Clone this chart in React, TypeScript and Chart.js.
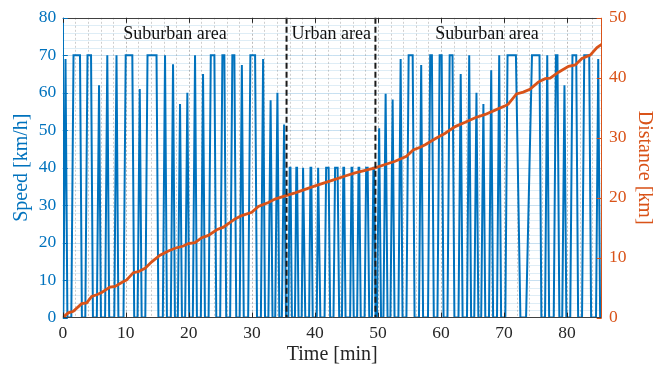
import React, { useEffect, useRef } from 'react';
import { Chart, registerables } from 'chart.js';

Chart.register(...registerables);

// ---- Data ----
const timeTicks = [0, 10, 20, 30, 40, 50, 60, 70, 80];
const speedTicks = [0, 10, 20, 30, 40, 50, 60, 70, 80];
const distanceTicks = [0, 10, 20, 30, 40, 50];

// speed cycles: time [min] when the car starts, reaches its peak, leaves its peak, stops; peak speed [km/h]
const cycleRise = [
  0.08, 1.35, 3.57, 5.40, 6.71, 8.17, 9.63, 11.86, 13.09, 15.87, 17.14, 18.25, 19.41, 20.63, 21.90, 23.13, 24.97, 26.55, 28.06, 29.41, 31.43, 32.62, 33.70, 34.76,
  35.78, 36.83, 37.90, 39.08, 40.29, 41.53, 42.95, 44.29, 45.59, 46.70, 47.88, 49.05,
  49.84, 50.87, 51.98, 53.25, 54.52, 56.51, 57.94, 59.44, 61.03, 62.78, 64.13, 65.28, 66.38, 67.62, 68.89, 70.21, 73.50, 76.51, 77.89, 79.24, 80.51, 82.38, 84.60,
];
const cyclePeakFrom = [
  0.43, 1.70, 3.92, 5.75, 7.06, 8.52, 9.98, 12.21, 13.44, 16.22, 17.49, 18.60, 19.76, 20.98, 22.25, 23.48, 25.32, 26.90, 28.41, 29.76, 31.78, 32.97, 34.05, 35.11,
  36.00, 37.05, 38.12, 39.30, 40.51, 41.78, 43.20, 44.51, 45.81, 46.92, 48.13, 49.27,
  50.19, 51.22, 52.33, 53.60, 54.87, 56.86, 58.29, 59.79, 61.38, 63.13, 64.48, 65.63, 66.73, 67.97, 69.24, 70.56, 74.44, 76.86, 78.24, 79.59, 80.86, 82.73, 84.95,
];
const cyclePeakTo = [
  0.43, 2.73, 4.48, 5.75, 7.06, 8.52, 11.03, 12.21, 14.87, 16.22, 17.49, 18.60, 19.76, 20.98, 22.25, 24.05, 25.63, 27.22, 28.41, 30.51, 31.78, 32.97, 34.05, 35.11,
  36.12, 37.17, 38.24, 39.42, 40.63, 42.17, 43.60, 44.63, 45.93, 47.04, 48.37, 49.39,
  50.19, 51.22, 52.33, 53.60, 55.51, 56.86, 58.56, 60.11, 61.83, 63.13, 64.48, 65.63, 66.73, 67.97, 69.24, 71.89, 75.63, 76.86, 78.48, 79.59, 81.46, 83.52, 84.95,
];
const cycleStop = [
  0.73, 3.03, 4.78, 6.05, 7.36, 8.82, 11.33, 12.51, 15.17, 16.52, 17.79, 18.90, 20.06, 21.28, 22.55, 24.35, 25.93, 27.52, 28.71, 30.81, 32.08, 33.27, 34.35, 35.41,
  36.35, 37.40, 38.47, 39.65, 40.86, 42.42, 43.85, 44.86, 46.16, 47.27, 48.62, 49.62,
  50.49, 51.52, 52.63, 53.90, 55.81, 57.16, 58.86, 60.41, 62.13, 63.43, 64.78, 65.93, 67.03, 68.27, 69.54, 72.60, 75.93, 77.16, 78.78, 79.89, 81.76, 83.82, 85.25,
];
const cyclePeakSpeed = [
  69, 70, 70, 62, 70, 70, 70, 61, 70, 70, 67.6, 57, 60, 70, 65, 70, 70, 70, 67.4, 70, 69, 58, 60, 51.5,
  40, 40, 40, 40, 40, 40, 40, 40, 40, 40, 40, 40,
  50.5, 59.7, 58.2, 69, 70, 67.4, 70, 70, 70, 65, 70, 60, 57, 66, 70, 70, 70, 70, 70, 62, 70, 70, 69,
];

// cumulative distance
const distanceTime = [
  0, 0.87, 1.67, 3.0, 3.79, 4.59, 5.38, 6.17, 7.49, 8.29, 9.35, 10.14, 11.19, 11.98, 13.05, 14.11, 15.43, 16.75, 17.81, 19.13,
  19.92, 20.98, 22.05, 23.1, 24.43, 25.48, 27.33, 28.4, 29.98, 31.03, 32.62, 33.68, 35.27, 36.86, 38.44, 40.03, 41.62, 43.21,
  44.79, 46.38, 47.97, 49.56, 51.14, 52.73, 54.52, 55.59, 56.7, 57.49, 59.08, 60.67, 62.25, 63.84, 65.43, 67.02, 68.6, 70.19,
  70.67, 71.98, 73.05, 74.11, 75.43, 76.54, 77.33, 78.65, 80.24, 81.3, 82.37, 83.68, 84.75, 85.54,
];
const distanceKm = [
  0, 0.78, 1.04, 2.31, 2.43, 3.51, 3.80, 4.17, 5.07, 5.17, 5.83, 6.27, 7.48, 7.64, 8.20, 9.29, 10.40, 11.11, 11.55, 11.93,
  12.33, 12.49, 13.32, 13.70, 14.64, 15.07, 16.45, 17.0, 17.54, 18.53, 19.19, 19.75, 20.30, 20.80, 21.37, 21.95, 22.49, 23.05,
  23.60, 24.14, 24.54, 24.97, 25.53, 26.07, 26.9, 27.95, 28.4, 28.83, 29.82, 30.74, 31.85, 32.56, 33.33, 33.88, 34.6, 35.31,
  35.6, 37.3, 37.6, 38.07, 39.27, 39.85, 39.93, 40.92, 41.91, 42.13, 43.23, 43.78, 45.05, 45.6,
];

const regionBounds = [35.5, 49.6];
const regionLabels = ['Suburban area', 'Urban area', 'Suburban area'];
const regionLabelTimes = [17.8, 42.6, 67.3];
const regionLabelSpeed = 75.5;

const T_MAX = 85.5;
const BLUE = '#0072BD';
const ORANGE = '#D95319';
const DARK = '#262626';
const FONT = "'Liberation Serif', 'Times New Roman', serif";

const speedPoints: { x: number; y: number }[] = [{ x: 0, y: 0 }];
for (let i = 0; i < cycleRise.length; i++) {
  speedPoints.push({ x: cycleRise[i], y: 0 });
  speedPoints.push({ x: cyclePeakFrom[i], y: cyclePeakSpeed[i] });
  if (cyclePeakTo[i] !== cyclePeakFrom[i]) speedPoints.push({ x: cyclePeakTo[i], y: cyclePeakSpeed[i] });
  speedPoints.push({ x: cycleStop[i], y: 0 });
}
speedPoints.push({ x: T_MAX, y: 0 });

const distancePoints = distanceTime.map((t, i) => ({ x: t, y: distanceKm[i] }));

const decorPlugin = {
  id: 'decor',
  beforeDatasetsDraw(chart: any) {
    const { ctx, chartArea: a, scales } = chart;
    const x = scales.x, y = scales.y;
    ctx.save();
    ctx.lineWidth = 1;
    for (let v = 2; v < 80; v += 2) {
      const py = Math.round(y.getPixelForValue(v)) + 0.5;
      const major = v % 10 === 0;
      ctx.strokeStyle = major ? 'rgba(0,114,189,0.22)' : 'rgba(0,114,189,0.13)';
      ctx.setLineDash([]);
      ctx.beginPath();
      ctx.moveTo(a.left, py);
      ctx.lineTo(a.right, py);
      ctx.stroke();
    }
    for (let t = 2; t < T_MAX; t += 2) {
      const px = Math.round(x.getPixelForValue(t)) + 0.5;
      const major = t % 10 === 0;
      ctx.strokeStyle = major ? 'rgba(60,60,60,0.35)' : 'rgba(60,60,60,0.25)';
      ctx.setLineDash([2, 2]);
      ctx.beginPath();
      ctx.moveTo(px, a.top);
      ctx.lineTo(px, a.bottom);
      ctx.stroke();
    }
    ctx.restore();
  },
  afterDatasetsDraw(chart: any) {
    const { ctx, chartArea: a, scales } = chart;
    const x = scales.x, y = scales.y, y1 = scales.y1;
    ctx.save();
    ctx.strokeStyle = '#1a1a1a';
    ctx.lineWidth = 2;
    ctx.setLineDash([6, 3]);
    regionBounds.forEach((t) => {
      const px = x.getPixelForValue(t);
      ctx.beginPath();
      ctx.moveTo(px, a.top);
      ctx.lineTo(px, a.bottom);
      ctx.stroke();
    });
    ctx.setLineDash([]);
    ctx.fillStyle = '#111';
    ctx.font = `18px ${FONT}`;
    ctx.textAlign = 'center';
    ctx.textBaseline = 'middle';
    regionLabels.forEach((s, i) => {
      ctx.fillText(s, x.getPixelForValue(regionLabelTimes[i]), y.getPixelForValue(regionLabelSpeed));
    });
    ctx.lineWidth = 1;
    ctx.strokeStyle = '#404040';
    ctx.beginPath();
    ctx.moveTo(a.left, Math.round(a.top) + 0.5);
    ctx.lineTo(a.right, Math.round(a.top) + 0.5);
    ctx.moveTo(a.left, Math.round(a.bottom) - 0.5);
    ctx.lineTo(a.right, Math.round(a.bottom) - 0.5);
    ctx.stroke();
    ctx.strokeStyle = BLUE;
    ctx.beginPath();
    ctx.moveTo(Math.round(a.left) + 0.5, a.top);
    ctx.lineTo(Math.round(a.left) + 0.5, a.bottom);
    ctx.stroke();
    ctx.strokeStyle = ORANGE;
    ctx.beginPath();
    ctx.moveTo(Math.round(a.right) - 0.5, a.top);
    ctx.lineTo(Math.round(a.right) - 0.5, a.bottom);
    ctx.stroke();
    const TL = 5;
    ctx.strokeStyle = DARK;
    ctx.beginPath();
    timeTicks.forEach((t) => {
      const px = Math.round(x.getPixelForValue(t)) + 0.5;
      ctx.moveTo(px, a.bottom);
      ctx.lineTo(px, a.bottom - TL);
      ctx.moveTo(px, a.top);
      ctx.lineTo(px, a.top + TL);
    });
    ctx.stroke();
    ctx.strokeStyle = BLUE;
    ctx.beginPath();
    speedTicks.forEach((v) => {
      const py = Math.round(y.getPixelForValue(v)) + 0.5;
      ctx.moveTo(a.left, py);
      ctx.lineTo(a.left + TL, py);
    });
    ctx.stroke();
    ctx.strokeStyle = ORANGE;
    ctx.beginPath();
    distanceTicks.forEach((v) => {
      const py = Math.round(y1.getPixelForValue(v)) + 0.5;
      ctx.moveTo(a.right, py);
      ctx.lineTo(a.right - TL, py);
    });
    ctx.stroke();
    ctx.restore();
  },
};

export default function App() {
  const ref = useRef<HTMLCanvasElement>(null);
  useEffect(() => {
    const tickFont = { family: FONT, size: 17.5 };
    const titleFont = { family: FONT, size: 20, lineHeight: 1.2 };
    const chart = new Chart(ref.current!, {
      type: 'scatter',
      data: {
        datasets: [
          {
            label: 'Distance',
            data: distancePoints,
            yAxisID: 'y1',
            showLine: true,
            borderColor: ORANGE,
            backgroundColor: ORANGE,
            borderWidth: 2.8,
            pointRadius: 0,
            tension: 0,
          },
          {
            label: 'Speed',
            data: speedPoints,
            yAxisID: 'y',
            showLine: true,
            borderColor: BLUE,
            backgroundColor: BLUE,
            borderWidth: 2,
            pointRadius: 0,
            tension: 0,
          },
        ],
      },
      options: {
        animation: false,
        responsive: true,
        maintainAspectRatio: false,
        layout: { padding: { top: 14, left: 0, right: 0, bottom: 0 } },
        plugins: { legend: { display: false }, tooltip: { enabled: false } },
        scales: {
          x: {
            type: 'linear',
            min: 0,
            max: T_MAX,
            afterBuildTicks: (s: any) => { s.ticks = timeTicks.map((v) => ({ value: v })); },
            afterFit: (s: any) => { s.height = 55.5; },
            grid: { display: false, drawTicks: false },
            border: { display: false },
            ticks: { color: DARK, font: tickFont, padding: 5, maxRotation: 0 },
            title: { display: true, text: 'Time [min]', color: DARK, font: titleFont, padding: { top: 0, bottom: 6 } },
          },
          y: {
            type: 'linear',
            position: 'left',
            min: 0,
            max: 80,
            afterBuildTicks: (s: any) => { s.ticks = speedTicks.map((v) => ({ value: v })); },
            afterFit: (s: any) => { s.width = 62.8; },
            grid: { display: false, drawTicks: false },
            border: { display: false },
            ticks: { color: BLUE, font: tickFont, padding: 6.5 },
            title: { display: true, text: 'Speed [km/h]', color: BLUE, font: titleFont, padding: { top: 10, bottom: 0 } },
          },
          y1: {
            type: 'linear',
            position: 'right',
            min: 0,
            max: 50,
            afterBuildTicks: (s: any) => { s.ticks = distanceTicks.map((v) => ({ value: v })); },
            afterFit: (s: any) => { s.width = 64.3; },
            grid: { display: false, drawTicks: false },
            border: { display: false },
            ticks: { color: ORANGE, font: tickFont, padding: 7.3 },
            title: { display: true, text: 'Distance [km]', color: ORANGE, font: titleFont, padding: { top: 10, bottom: 0 } },
          },
        },
      },
      plugins: [decorPlugin],
    });
    return () => chart.destroy();
  }, []);
  return (
    <div style={{ position: 'absolute', left: 0, top: 0, width: 666, height: 373, background: '#fff' }}>
      <canvas ref={ref} />
    </div>
  );
}
